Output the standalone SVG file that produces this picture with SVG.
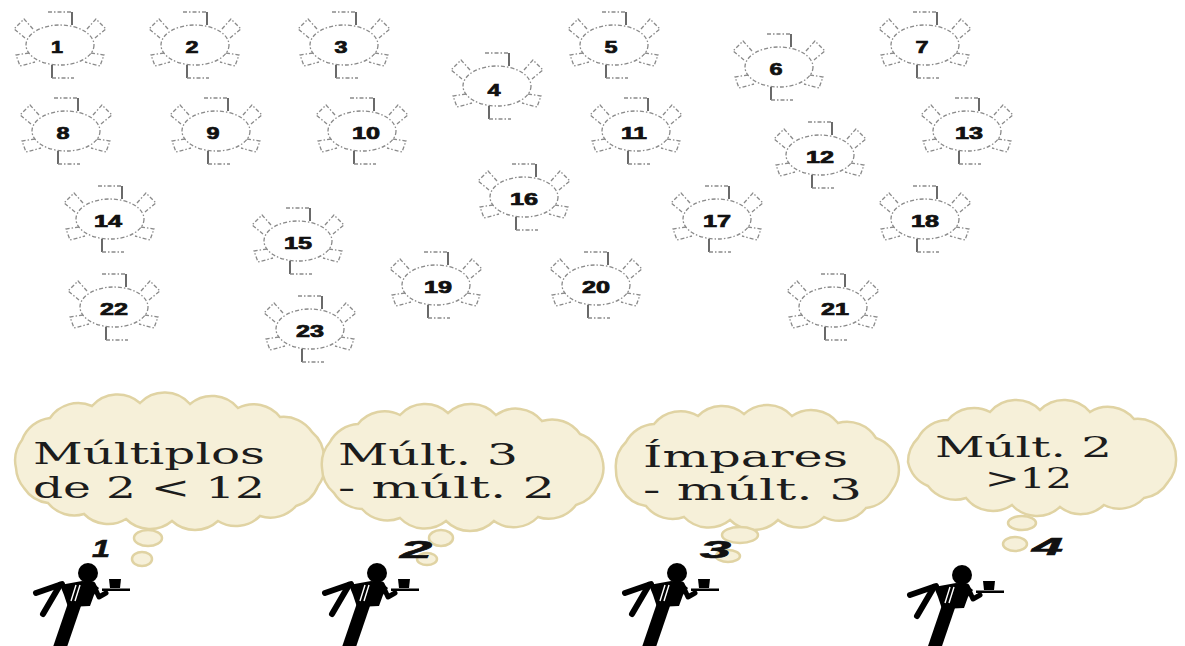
<svg xmlns="http://www.w3.org/2000/svg" xmlns:xlink="http://www.w3.org/1999/xlink" width="1185" height="646" viewBox="0 0 1185 646">
  <style>
    .dash { fill: none; stroke: #8a8a8a; stroke-width: 1.3; stroke-dasharray: 4 2 1.5 2; }
    .leg { fill: none; stroke: #444; stroke-width: 1.6; }
    .num { font-family: "Liberation Sans", Arial, sans-serif; font-weight: bold; font-size: 16px; fill: #111; stroke: #111; stroke-width: 0.7; text-anchor: middle; }
    .cloud { fill: #f6f0d9; stroke: #e0d3a3; stroke-width: 2.5; }
    .say { font-family: "DejaVu Serif", "Liberation Serif", serif; font-size: 30px; fill: #1c1c1c; }
    .who { font-family: "Liberation Sans", Arial, sans-serif; font-weight: bold; font-style: italic; font-size: 24px; fill: #111; stroke: #111; stroke-width: 0.6; }
  </style>
  <defs>
    <!-- round table with six chairs, centred on the origin -->
    <g id="table">
      <ellipse class="dash" rx="34" ry="20"/>
      <path class="dash" d="M-12,-33 H12"/>
      <path class="leg" d="M12,-33 V-20"/>
      <path class="leg" d="M-8,20 V33"/>
      <path class="dash" d="M-8,33 H14"/>
      <path class="dash" d="M-27,-16 L-36,-26 L-46,-16 L-35,-7"/>
      <path class="dash" d="M27,-16 L36,-26 L46,-16 L35,-7"/>
      <path class="dash" d="M-31,8 L-44,10 L-40,21 L-25,17"/>
      <path class="dash" d="M31,8 L44,10 L40,21 L25,17"/>
    </g>
    <!-- waiter silhouette carrying a tray; head centred on the origin -->
    <g id="waiter">
      <circle cx="0" cy="0" r="10" fill="#000"/>
      <path fill="#000" d="M-28,12 L-6,8 L4,9 L11,15 L6,22 L2,33 L-20,34 L-24,22 Z"/>
      <path fill="none" stroke="#000" stroke-width="6" stroke-linecap="round" d="M-52,20 L-26,11"/>
      <path fill="none" stroke="#000" stroke-width="6" stroke-linecap="round" d="M-28,12 L-45,41"/>
      <path fill="#000" d="M-20,30 L-6,30 L-21,74 L-35,74 Z"/>
      <path fill="none" stroke="#000" stroke-width="5" stroke-linecap="round" stroke-linejoin="round" d="M5,11 L11,24 L18,20"/>
      <rect x="14" y="15.5" width="28" height="2.5" fill="#000"/>
      <path fill="#000" d="M21,6 L33,6 L32,15 L22,15 Z"/>
      <path fill="none" stroke="#fff" stroke-width="1.4" d="M-12,12 L-17,28 M-8,12 L-13,28"/>
    </g>
  </defs>

  <rect width="1185" height="646" fill="#fff"/>

  <!-- tables -->
  <g id="tables">
    <g id="t1"><use xlink:href="#table" x="60" y="45"/><text class="num" x="57" y="53" textLength="12" lengthAdjust="spacingAndGlyphs">1</text></g>
    <g id="t2"><use xlink:href="#table" x="195" y="45"/><text class="num" x="192" y="53" textLength="13" lengthAdjust="spacingAndGlyphs">2</text></g>
    <g id="t3"><use xlink:href="#table" x="344" y="45"/><text class="num" x="341" y="53" textLength="13" lengthAdjust="spacingAndGlyphs">3</text></g>
    <g id="t4"><use xlink:href="#table" x="497" y="86"/><text class="num" x="494" y="96" textLength="13" lengthAdjust="spacingAndGlyphs">4</text></g>
    <g id="t5"><use xlink:href="#table" x="614" y="45"/><text class="num" x="611" y="53" textLength="13" lengthAdjust="spacingAndGlyphs">5</text></g>
    <g id="t6"><use xlink:href="#table" x="779" y="67"/><text class="num" x="776" y="75" textLength="13" lengthAdjust="spacingAndGlyphs">6</text></g>
    <g id="t7"><use xlink:href="#table" x="925" y="45"/><text class="num" x="922" y="53" textLength="13" lengthAdjust="spacingAndGlyphs">7</text></g>
    <g id="t8"><use xlink:href="#table" x="66" y="131"/><text class="num" x="63" y="139" textLength="13" lengthAdjust="spacingAndGlyphs">8</text></g>
    <g id="t9"><use xlink:href="#table" x="216" y="131"/><text class="num" x="213" y="139" textLength="13" lengthAdjust="spacingAndGlyphs">9</text></g>
    <g id="t10"><use xlink:href="#table" x="362" y="131"/><text class="num" x="366" y="139" textLength="28" lengthAdjust="spacingAndGlyphs">10</text></g>
    <g id="t11"><use xlink:href="#table" x="636" y="131"/><text class="num" x="634" y="139" textLength="26" lengthAdjust="spacingAndGlyphs">11</text></g>
    <g id="t12"><use xlink:href="#table" x="820" y="155"/><text class="num" x="820" y="163" textLength="28" lengthAdjust="spacingAndGlyphs">12</text></g>
    <g id="t13"><use xlink:href="#table" x="967" y="131"/><text class="num" x="969" y="139" textLength="28" lengthAdjust="spacingAndGlyphs">13</text></g>
    <g id="t14"><use xlink:href="#table" x="110" y="219"/><text class="num" x="108" y="227" textLength="28" lengthAdjust="spacingAndGlyphs">14</text></g>
    <g id="t15"><use xlink:href="#table" x="298" y="241"/><text class="num" x="298" y="249" textLength="28" lengthAdjust="spacingAndGlyphs">15</text></g>
    <g id="t16"><use xlink:href="#table" x="524" y="197"/><text class="num" x="524" y="205" textLength="28" lengthAdjust="spacingAndGlyphs">16</text></g>
    <g id="t17"><use xlink:href="#table" x="717" y="219"/><text class="num" x="717" y="227" textLength="28" lengthAdjust="spacingAndGlyphs">17</text></g>
    <g id="t18"><use xlink:href="#table" x="925" y="219"/><text class="num" x="925" y="227" textLength="28" lengthAdjust="spacingAndGlyphs">18</text></g>
    <g id="t19"><use xlink:href="#table" x="436" y="285"/><text class="num" x="438" y="293" textLength="28" lengthAdjust="spacingAndGlyphs">19</text></g>
    <g id="t20"><use xlink:href="#table" x="596" y="285"/><text class="num" x="596" y="293" textLength="28" lengthAdjust="spacingAndGlyphs">20</text></g>
    <g id="t21"><use xlink:href="#table" x="833" y="307"/><text class="num" x="835" y="315" textLength="28" lengthAdjust="spacingAndGlyphs">21</text></g>
    <g id="t22"><use xlink:href="#table" x="114" y="307"/><text class="num" x="114" y="315" textLength="28" lengthAdjust="spacingAndGlyphs">22</text></g>
    <g id="t23"><use xlink:href="#table" x="310" y="329"/><text class="num" x="310" y="337" textLength="28" lengthAdjust="spacingAndGlyphs">23</text></g>
  </g>

  <!-- thought clouds -->
  <g id="cloud1">
    <path class="cloud" d="M16,468 A34,34 0 0 1 22,440 A34,34 0 0 1 50,418 A34,34 0 0 1 92,406 A34,34 0 0 1 140,403 A34,34 0 0 1 190,404 A34,34 0 0 1 238,408 A34,34 0 0 1 280,417 A34,34 0 0 1 312,432 A34,34 0 0 1 324,458 A34,34 0 0 1 318,486 A34,34 0 0 1 296,506 A34,34 0 0 1 260,516 A34,34 0 0 1 218,521 A34,34 0 0 1 172,521 A34,34 0 0 1 126,519 A34,34 0 0 1 84,514 A34,34 0 0 1 48,503 A34,34 0 0 1 24,488 A34,34 0 0 1 16,468 Z"/>
    <ellipse class="cloud" cx="148" cy="538" rx="14" ry="8"/>
    <ellipse class="cloud" cx="142" cy="559" rx="10" ry="7"/>
    <text class="say" x="33" y="464" textLength="232" lengthAdjust="spacingAndGlyphs">Múltiplos</text>
    <text class="say" x="33" y="498" textLength="232" lengthAdjust="spacingAndGlyphs">de 2 &lt; 12</text>
  </g>
  <g id="cloud2">
    <path class="cloud" d="M322,468 A34,34 0 0 1 330,442 A34,34 0 0 1 358,424 A34,34 0 0 1 400,415 A34,34 0 0 1 448,413 A34,34 0 0 1 496,415 A34,34 0 0 1 542,421 A34,34 0 0 1 580,434 A34,34 0 0 1 602,458 A34,34 0 0 1 598,486 A34,34 0 0 1 576,505 A34,34 0 0 1 538,517 A34,34 0 0 1 494,521 A34,34 0 0 1 446,521 A34,34 0 0 1 400,518 A34,34 0 0 1 362,509 A34,34 0 0 1 334,493 A34,34 0 0 1 322,468 Z"/>
    <ellipse class="cloud" cx="441" cy="538" rx="12" ry="8"/>
    <ellipse class="cloud" cx="427" cy="559" rx="10" ry="6"/>
    <text class="say" x="338" y="465" textLength="180" lengthAdjust="spacingAndGlyphs">Múlt. 3</text>
    <text class="say" x="338" y="498" textLength="217" lengthAdjust="spacingAndGlyphs">- múlt. 2</text>
  </g>
  <g id="cloud3">
    <path class="cloud" d="M616,470 A34,34 0 0 1 626,442 A34,34 0 0 1 654,424 A34,34 0 0 1 698,416 A34,34 0 0 1 744,414 A34,34 0 0 1 792,416 A34,34 0 0 1 838,423 A34,34 0 0 1 876,438 A34,34 0 0 1 898,462 A34,34 0 0 1 892,490 A34,34 0 0 1 866,508 A34,34 0 0 1 824,517 A34,34 0 0 1 778,520 A34,34 0 0 1 730,520 A34,34 0 0 1 684,517 A34,34 0 0 1 646,506 A34,34 0 0 1 622,490 A34,34 0 0 1 616,470 Z"/>
    <ellipse class="cloud" cx="740" cy="535" rx="18" ry="8"/>
    <ellipse class="cloud" cx="728" cy="556" rx="12" ry="6"/>
    <text class="say" x="643" y="467" textLength="205" lengthAdjust="spacingAndGlyphs">Ímpares</text>
    <text class="say" x="643" y="500" textLength="219" lengthAdjust="spacingAndGlyphs">- múlt. 3</text>
  </g>
  <g id="cloud4">
    <path class="cloud" d="M908,462 A34,34 0 0 1 918,438 A34,34 0 0 1 948,420 A34,34 0 0 1 990,412 A34,34 0 0 1 1040,410 A34,34 0 0 1 1090,412 A34,34 0 0 1 1134,419 A34,34 0 0 1 1166,434 A34,34 0 0 1 1176,458 A34,34 0 0 1 1168,482 A34,34 0 0 1 1144,498 A34,34 0 0 1 1104,505 A34,34 0 0 1 1060,507 A34,34 0 0 1 1012,505 A34,34 0 0 1 966,498 A34,34 0 0 1 928,486 A34,34 0 0 1 908,462 Z"/>
    <ellipse class="cloud" cx="1022" cy="523" rx="14" ry="7"/>
    <ellipse class="cloud" cx="1015" cy="544" rx="12" ry="7"/>
    <text class="say" style="font-size:28px" x="935" y="457" textLength="177" lengthAdjust="spacingAndGlyphs">Múlt. 2</text>
    <text class="say" style="font-size:28px" x="985" y="488" textLength="87" lengthAdjust="spacingAndGlyphs">&gt;12</text>
  </g>

  <!-- waiters -->
  <g id="waiter1"><use xlink:href="#waiter" x="88" y="573"/><text class="who" x="92" y="557" textLength="18" lengthAdjust="spacingAndGlyphs">1</text></g>
  <g id="waiter2"><use xlink:href="#waiter" x="377" y="573"/><text class="who" x="400" y="558" textLength="32" lengthAdjust="spacingAndGlyphs">2</text></g>
  <g id="waiter3"><use xlink:href="#waiter" x="677" y="573"/><text class="who" x="700" y="558" textLength="31" lengthAdjust="spacingAndGlyphs">3</text></g>
  <g id="waiter4"><use xlink:href="#waiter" x="962" y="575"/><text class="who" x="1032" y="555" textLength="31" lengthAdjust="spacingAndGlyphs">4</text></g>
</svg>
